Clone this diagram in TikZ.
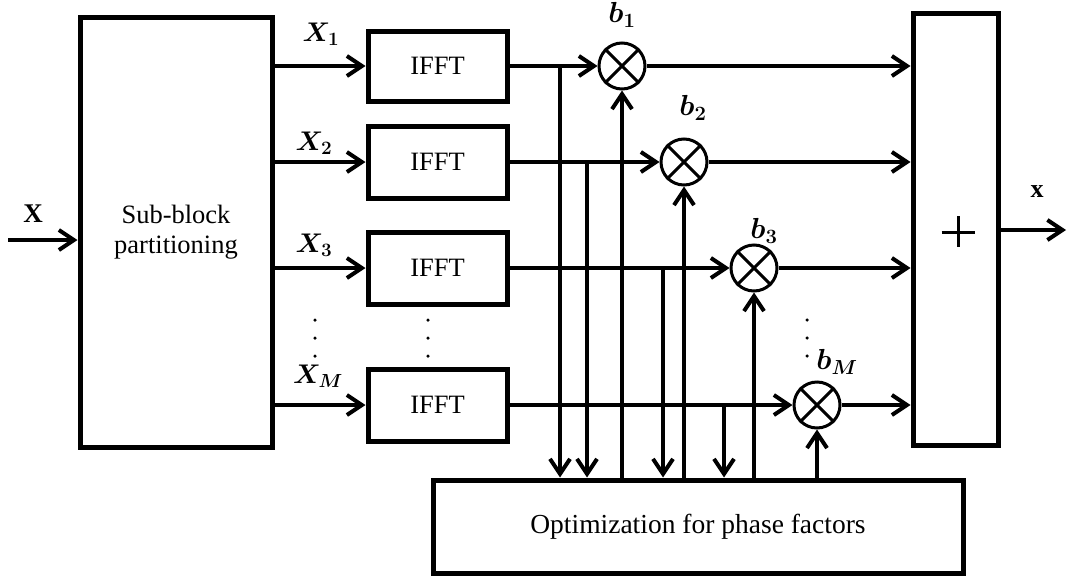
\RequirePackage{fix-cm}
\documentclass[tikz,border=0pt]{standalone}
\usepackage{fontspec}
\usepackage{bm}
\setmainfont{Liberation Serif}
\usetikzlibrary{arrows.meta,calc}

\tikzset{
  blk/.style={draw, line width=5pt, inner sep=0pt, align=center,
    font=\fontsize{26.5}{30}\selectfont},
  wire/.style={line width=4pt},
  arr/.style={wire, -{Straight Barb[length=15pt,width=20pt,line width=4pt]}},
  mult/.style={draw, circle, line width=3pt, minimum size=46pt, inner sep=0pt},
  lbl/.style={font=\fontsize{27}{30}\selectfont},
  dot/.style={fill, circle, inner sep=0pt, minimum size=3.5pt},
}

\begin{document}
\begin{tikzpicture}[x=1pt, y=-1pt]
  \useasboundingbox (0,0) rectangle (1068,576);

  % main blocks
  \node[blk, minimum width=192pt, minimum height=430pt] (sb) at (176,232) {Sub-block\\partitioning};
  \node[blk, minimum width=139pt, minimum height=70pt] (i1) at (437.5,66) {IFFT};
  \node[blk, minimum width=139pt, minimum height=72pt] (i2) at (437.5,162) {IFFT};
  \node[blk, minimum width=139pt, minimum height=72pt] (i3) at (437.5,268) {IFFT};
  \node[blk, minimum width=139pt, minimum height=72pt] (iM) at (437.5,405) {IFFT};
  \node[blk, minimum width=85pt, minimum height=432pt] (add) at (955.5,229) {};
  \node[blk, minimum width=530pt, minimum height=93pt, font=\fontsize{27.5}{30}\selectfont] (opt) at (698,526.5) {Optimization for phase factors};

  % plus sign of the adder
  \draw[line width=3pt] ($(add.center)+(-14,3)$) -- ($(add.center)+(19,3)$)
    ($(add.center)+(2.5,-13)$) -- ($(add.center)+(2.5,18)$);

  % multipliers
  \foreach \n/\x/\y in {b1/622/66, b2/684/162, b3/754/268, bM/817/405}{
    \node[mult] (\n) at (\x,\y) {};
    \draw[line width=3pt] (\n.north west) -- (\n.south east)
                          (\n.north east) -- (\n.south west);
  }

  % input
  \coordinate (xin) at (8,240);
  \draw[arr] (xin) -- (xin -| sb.west);
  \node[font=\fontsize{27}{30}\selectfont\bfseries] (xlab) at (33,214) {X};

  % sub-blocks into IFFTs
  \foreach \k in {1,2,3,M}{
    \draw[arr] (i\k.west -| sb.east) -- (i\k.west);
  }
  \node[lbl] (lx1) at (321,34) {$\bm{X_1}$};
  \node[lbl] (lx2) at (314,143) {$\bm{X_2}$};
  \node[lbl] (lx3) at (314,245) {$\bm{X_3}$};
  \node[lbl] (lxM) at (318,376) {$\bm{X_M}$};

  % IFFT outputs into multipliers
  \draw[arr] (i1.east) -- (b1.west);
  \draw[arr] (i2.east) -- (b2.west);
  \draw[arr] (i3.east) -- (b3.west);
  \draw[arr] (iM.east) -- (bM.west);

  % taps to the optimizer
  \coordinate (t1) at (560,66);
  \coordinate (t2) at (587,162);
  \coordinate (t3) at (663,268);
  \coordinate (t4) at (724,405);
  \foreach \t in {t1,t2,t3,t4}{
    \draw[arr] (\t) -- (\t |- opt.north);
  }

  % phase factors back to the multipliers
  \foreach \n in {b1,b2,b3,bM}{
    \draw[arr] (opt.north -| \n.south) -- (\n.south);
  }
  \node[lbl, font=\fontsize{29}{32}\selectfont] (lb1) at (622,15) {$\bm{b_1}$};
  \node[lbl, font=\fontsize{29}{32}\selectfont] (lb2) at (693,108) {$\bm{b_2}$};
  \node[lbl, font=\fontsize{29}{32}\selectfont] (lb3) at (764,231) {$\bm{b_3}$};
  \node[lbl, font=\fontsize{29}{32}\selectfont] (lbM) at (837,362) {$\bm{b_M}$};

  % multiplier outputs into the adder
  \foreach \n in {b1,b2,b3,bM}{
    \draw[arr] (\n.east) -- (\n.east -| add.west);
  }

  % output
  \coordinate (xout) at (1066,230);
  \draw[arr] (add.east |- xout) -- (xout);
  \node[font=\fontsize{26}{30}\selectfont\bfseries] (xolab) at (1037,192) {x};

  % continuation dots
  \foreach \x in {315,428,807}{
    \foreach \y in {320,338,356}{
      \node[dot] at (\x,\y) {};
    }
  }
\end{tikzpicture}
\end{document}
